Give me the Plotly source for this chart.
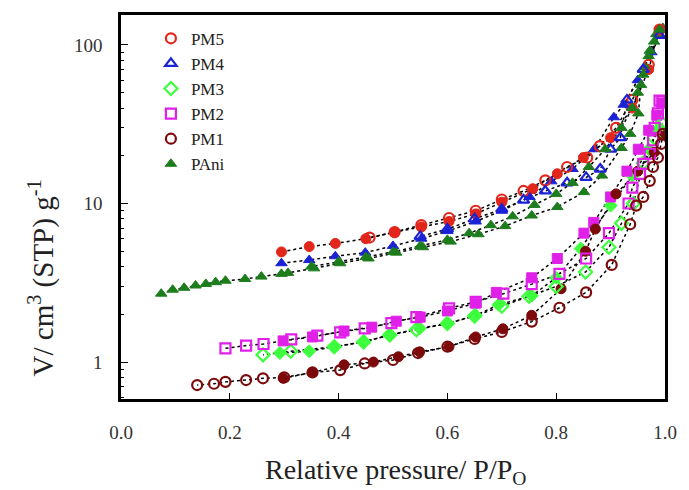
import plotly.graph_objects as go

# ---- isotherm data: relative pressure P/Po and adsorbed volume (cm3 STP / g) ----
pm5_ads_x = [0.295, 0.346, 0.394, 0.450, 0.503, 0.552, 0.603, 0.652, 0.700, 0.757, 0.802, 0.850, 0.900, 0.940, 0.970, 0.990]
pm5_ads_y = [4.95, 5.35, 5.6, 6.0, 6.6, 7.1, 7.7, 8.6, 10.2, 12.4, 15.4, 19.5, 26, 40, 70, 125]
pm5_des_x = [0.990, 0.970, 0.940, 0.910, 0.880, 0.857, 0.820, 0.780, 0.740, 0.700, 0.652, 0.603, 0.552, 0.503, 0.457]
pm5_des_y = [125, 75, 45, 30, 23, 19.5, 17, 14, 12, 10.6, 9.0, 8.1, 7.3, 6.6, 6.1]

pm4_ads_x = [0.295, 0.346, 0.394, 0.449, 0.500, 0.552, 0.600, 0.652, 0.700, 0.751, 0.791, 0.830, 0.870, 0.906, 0.924, 0.950, 0.975, 0.990]
pm4_ads_y = [4.2, 4.4, 4.65, 4.9, 5.4, 6.0, 6.7, 7.7, 9.0, 11, 13.8, 16.5, 22, 35, 42, 60, 90, 115]
pm4_des_x = [0.990, 0.960, 0.930, 0.918, 0.900, 0.881, 0.855, 0.820, 0.780, 0.740, 0.700, 0.650, 0.600, 0.550]
pm4_des_y = [115, 70, 45, 26, 22, 16.5, 14.6, 13.5, 12, 10.5, 9.2, 8.0, 6.9, 6.2]

pm3_ads_x = [0.292, 0.346, 0.392, 0.446, 0.494, 0.549, 0.600, 0.652, 0.694, 0.755, 0.800, 0.845, 0.900, 0.940, 0.970, 0.990]
pm3_ads_y = [1.14, 1.17, 1.25, 1.34, 1.48, 1.63, 1.75, 1.97, 2.3, 2.62, 3.4, 5.2, 9.7, 15, 22, 30]
pm3_des_x = [0.995, 0.980, 0.960, 0.942, 0.920, 0.897, 0.854, 0.800, 0.750, 0.700, 0.650, 0.600, 0.543, 0.494, 0.446, 0.392, 0.312, 0.261]
pm3_des_y = [32, 26, 18, 10, 7.5, 5.3, 3.7, 3.0, 2.6, 2.25, 1.95, 1.75, 1.6, 1.48, 1.34, 1.25, 1.17, 1.11]

pm2_ads_x = [0.298, 0.352, 0.410, 0.461, 0.506, 0.550, 0.600, 0.652, 0.690, 0.755, 0.802, 0.851, 0.869, 0.900, 0.930, 0.951, 0.970, 0.985, 0.995]
pm2_ads_y = [1.36, 1.44, 1.57, 1.66, 1.81, 1.92, 2.1, 2.35, 2.75, 3.4, 4.5, 6.5, 7.6, 11, 16, 22, 29, 36, 43]
pm2_des_x = [0.995, 0.990, 0.987, 0.981, 0.978, 0.972, 0.960, 0.954, 0.940, 0.933, 0.897, 0.855, 0.806, 0.755, 0.703, 0.652, 0.603, 0.543, 0.497, 0.448, 0.403, 0.361, 0.313, 0.262, 0.230, 0.192]
pm2_des_y = [44, 44.5, 37, 30, 25, 20.6, 17.8, 15.4, 12.6, 10, 6.5, 4.5, 3.6, 3.1, 2.7, 2.4, 2.18, 1.92, 1.76, 1.63, 1.54, 1.47, 1.39, 1.3, 1.27, 1.22]

pm1_ads_x = [0.298, 0.352, 0.410, 0.464, 0.510, 0.549, 0.603, 0.652, 0.702, 0.755, 0.809, 0.854, 0.872, 0.910, 0.950, 0.980, 0.995]
pm1_ads_y = [0.79, 0.86, 0.96, 1.0, 1.08, 1.16, 1.25, 1.44, 1.62, 1.97, 2.9, 5.0, 6.9, 11.5, 16, 21, 27]
pm1_des_x = [0.996, 0.993, 0.987, 0.978, 0.972, 0.960, 0.947, 0.936, 0.902, 0.855, 0.806, 0.755, 0.700, 0.650, 0.600, 0.546, 0.500, 0.448, 0.403, 0.352, 0.300, 0.261, 0.230, 0.192, 0.171, 0.140]
pm1_des_y = [27.5, 23.8, 19.5, 17, 13.9, 11, 9.7, 7.4, 4.1, 2.75, 2.2, 1.8, 1.55, 1.4, 1.25, 1.14, 1.03, 0.98, 0.89, 0.86, 0.80, 0.79, 0.77, 0.75, 0.73, 0.716]

pani_ads_x = [0.074, 0.095, 0.116, 0.137, 0.156, 0.174, 0.192, 0.228, 0.258, 0.295, 0.307, 0.355, 0.403, 0.455, 0.506, 0.555, 0.606, 0.657, 0.706, 0.755, 0.802, 0.851, 0.884, 0.920, 0.936, 0.951, 0.956, 0.964, 0.972, 0.984, 0.996]
pani_ads_y = [2.70, 2.86, 2.94, 3.04, 3.11, 3.19, 3.26, 3.34, 3.46, 3.6, 3.65, 3.9, 4.2, 4.5, 4.9, 5.3, 5.75, 6.4, 7.2, 8.4, 9.5, 11.8, 15, 22.4, 27.5, 37, 56, 72, 92, 117, 128]
pani_des_x = [0.990, 0.980, 0.970, 0.960, 0.950, 0.940, 0.920, 0.890, 0.860, 0.830, 0.800, 0.760, 0.720, 0.680, 0.640, 0.600, 0.550, 0.500, 0.450, 0.400, 0.350]
pani_des_y = [125, 105, 85, 65, 50, 40, 30, 22, 17, 13.5, 11.5, 9.8, 8.3, 7.3, 6.5, 5.9, 5.4, 4.95, 4.6, 4.3, 4.0]

names = ["PM5", "PM4", "PM3", "PM2", "PM1", "PAni"]
colors = ["#e3261b", "#1b22d6", "#3dff3d", "#e020e8", "#7d0a0a", "#1d7d1d"]
symbols = ["circle", "triangle-up", "diamond", "square", "circle", "triangle-up"]

x_ticks = [0.0, 0.2, 0.4, 0.6, 0.8, 1.0]
x_tick_text = ["0.0", "0.2", "0.4", "0.6", "0.8", "1.0"]
y_ticks = [1, 10, 100]
y_tick_text = ["1", "10", "100"]

branches = [
    (pm5_ads_x, pm5_ads_y, pm5_des_x, pm5_des_y),
    (pm4_ads_x, pm4_ads_y, pm4_des_x, pm4_des_y),
    (pm3_ads_x, pm3_ads_y, pm3_des_x, pm3_des_y),
    (pm2_ads_x, pm2_ads_y, pm2_des_x, pm2_des_y),
    (pm1_ads_x, pm1_ads_y, pm1_des_x, pm1_des_y),
    (pani_ads_x, pani_ads_y, pani_des_x, pani_des_y),
]

serif = "Liberation Serif"
MSIZE = 10

fig = go.Figure()

# dotted connecting lines first so markers sit on top
for ax_, ay_, dx_, dy_ in branches:
    for xs, ys in ((ax_, ay_), (dx_, dy_)):
        fig.add_trace(go.Scatter(x=xs, y=ys, mode="lines", showlegend=False,
                                 hoverinfo="skip",
                                 line=dict(color="black", width=1.5, dash="dot")))

# filled markers (adsorption)
for i, (name, col, sym, (ax_, ay_, dx_, dy_)) in enumerate(zip(names, colors, symbols, branches)):
    fig.add_trace(go.Scatter(x=ax_, y=ay_, mode="markers", showlegend=(name == "PAni"),
                             name=name, legendrank=i + 1,
                             marker=dict(symbol=sym, size=MSIZE, color=col,
                                         line=dict(color=col, width=1))))

# open markers (desorption); PAni keeps filled symbols
for i, (name, col, sym, (ax_, ay_, dx_, dy_)) in enumerate(zip(names, colors, symbols, branches)):
    if name == "PAni":
        fig.add_trace(go.Scatter(x=dx_, y=dy_, mode="markers", showlegend=False,
                                 marker=dict(symbol=sym, size=MSIZE, color=col,
                                             line=dict(color=col, width=1))))
    else:
        fig.add_trace(go.Scatter(x=dx_, y=dy_, mode="markers", name=name,
                                 legendrank=i + 1,
                                 marker=dict(symbol=sym + "-open", size=MSIZE, color=col,
                                             line=dict(color=col, width=2.2))))

fig.update_layout(
    width=689, height=490,
    margin=dict(l=121, r=17, t=14, b=91),
    paper_bgcolor="white", plot_bgcolor="white",
    font=dict(family=serif, color="#222222", size=16),
    legend=dict(x=0.055, y=0.985, xanchor="left", yanchor="top",
                bgcolor="rgba(0,0,0,0)", font=dict(size=17, family=serif, color="#222222"),
                tracegroupgap=0, itemwidth=30),
    xaxis=dict(range=[0, 1], tickvals=x_ticks, ticktext=x_tick_text,
               ticks="inside", ticklen=6, tickwidth=1.2, tickcolor="black",
               showline=True, linecolor="black", linewidth=2.5, mirror=True,
               showgrid=False, zeroline=False, ticklabelstandoff=14,
               tickfont=dict(size=19, family=serif, color="#333333")),
    yaxis=dict(type="log", range=[-0.233, 2.189],
               tickvals=y_ticks, ticktext=y_tick_text,
               ticks="inside", ticklen=7, tickwidth=1.2, tickcolor="black",
               minor=dict(ticks="inside", ticklen=3, tickcolor="black",
                          tickvals=[0.6, 0.7, 0.8, 0.9, 2, 3, 4, 5, 6, 7, 8, 9,
                                    20, 30, 40, 50, 60, 70, 80, 90]),
               showline=True, linecolor="black", linewidth=2.5, mirror=True,
               showgrid=False, zeroline=False, ticklabelstandoff=12,
               tickfont=dict(size=19, family=serif, color="#333333")),
    annotations=[
        dict(text="Relative pressure/ P/P<sub>O</sub>", xref="paper", yref="paper",
             x=0.505, y=-0.19, xanchor="center", yanchor="middle", showarrow=False,
             font=dict(size=28, family=serif, color="#222222")),
        dict(text="V/ cm<sup>3</sup> (STP) g<sup>-1</sup>", xref="paper", yref="paper",
             x=-0.147, y=0.314, xanchor="center", yanchor="middle", showarrow=False,
             textangle=-90, font=dict(size=29, family=serif, color="#222222")),
    ],
)

fig.write_html("out.html")
